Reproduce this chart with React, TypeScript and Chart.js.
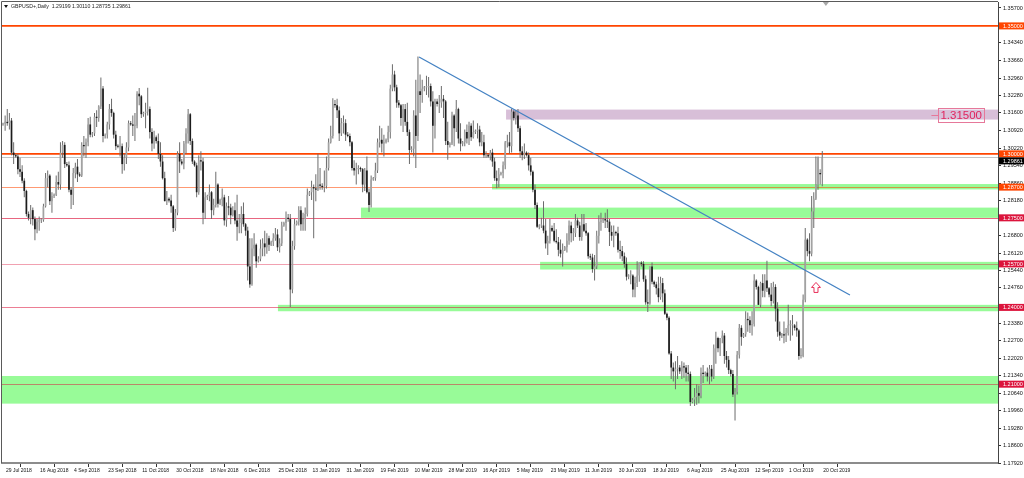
import React, { useEffect, useRef } from 'react';
import { Chart, registerables } from 'chart.js';

Chart.register(...registerables);

// ---- Daily GBPUSD+ bars (Sun..Fri per row), 29 Jul 2018 .. 21 Oct 2019 ----
const opens = [
  1.3115, 1.3118, 1.3125, 1.3120, 1.3130, 1.3005,
  1.2995, 1.2990, 1.2940, 1.2930, 1.2895, 1.2855,
  1.2765, 1.2750, 1.2780, 1.2745, 1.2705, 1.2735,
  1.2740, 1.2742, 1.2795, 1.2905, 1.2915, 1.2815,
  1.2835, 1.2840, 1.2890, 1.2880, 1.3005, 1.3035,
  1.2960, 1.2955, 1.2860, 1.2840, 1.2925, 1.2950,
  1.2920, 1.2915, 1.3035, 1.3030, 1.3045, 1.3115,
  1.3075, 1.3080, 1.3145, 1.3140, 1.3185, 1.3255,
  1.3070, 1.3075, 1.3115, 1.3175, 1.3160, 1.3075,
  1.3030, 1.3028, 1.3030, 1.2960, 1.2985, 1.3025,
  1.3120, 1.3115, 1.3110, 1.3110, 1.3235, 1.3225,
  1.3155, 1.3160, 1.3165, 1.3175, 1.3085, 1.3040,
  1.3065, 1.3050, 1.3000, 1.2970, 1.2905, 1.2815,
  1.2825, 1.2818, 1.2795, 1.2710, 1.2770, 1.3000,
  1.2970, 1.2962, 1.3040, 1.3080, 1.3155, 1.3050,
  1.2970, 1.2955, 1.2850, 1.2975, 1.2970, 1.2770,
  1.2830, 1.2835, 1.2850, 1.2780, 1.2800, 1.2880,
  1.2805, 1.2820, 1.2830, 1.2740, 1.2795, 1.2790,
  1.2760, 1.2780, 1.2740, 1.2715, 1.2730, 1.2765,
  1.2725, 1.2700, 1.2560, 1.2490, 1.2630, 1.2645,
  1.2580, 1.2590, 1.2630, 1.2650, 1.2635, 1.2670,
  1.2645, 1.2655, 1.2670, 1.2685, 1.2635, 1.2650,
  1.2720, 1.2730, 1.2750, 1.2745, 1.2470, 1.2640,
  1.2725, 1.2735, 1.2780, 1.2725, 1.2745, 1.2765,
  1.2840, 1.2850, 1.2870, 1.2865, 1.2860, 1.2880,
  1.2875, 1.2870, 1.2875, 1.2945, 1.3045, 1.3070,
  1.3195, 1.3190, 1.3170, 1.3080, 1.3120, 1.3120,
  1.3075, 1.3070, 1.3045, 1.2945, 1.2935, 1.2940,
  1.2945, 1.2940, 1.2880, 1.2935, 1.2850, 1.2800,
  1.2900, 1.2905, 1.2935, 1.3045, 1.3055, 1.3040,
  1.3045, 1.3055, 1.3085, 1.3255, 1.3310, 1.3260,
  1.3200, 1.3190, 1.3140, 1.3175, 1.3125, 1.3085,
  1.3015, 1.3020, 1.3150, 1.3070, 1.3245, 1.3230,
  1.3255, 1.3260, 1.3260, 1.3265, 1.3205, 1.3110,
  1.3205, 1.3195, 1.3200, 1.3215, 1.3205, 1.3050,
  1.3035, 1.3040, 1.3150, 1.3100, 1.3175, 1.3060,
  1.3040, 1.3045, 1.3085, 1.3060, 1.3110, 1.3065,
  1.3085, 1.3090, 1.3095, 1.3045, 1.3045, 1.2995,
  1.2995, 1.2990, 1.3005, 1.2970, 1.2905, 1.2895,
  1.2920, 1.2925, 1.2955, 1.3045, 1.3045, 1.3030,
  1.3165, 1.3140, 1.3150, 1.3100, 1.3010, 1.2995,
  1.3005, 1.2995, 1.2955, 1.2930, 1.2860, 1.2800,
  1.2715, 1.2720, 1.2720, 1.2700, 1.2650, 1.2660,
  1.2710, 1.2700, 1.2660, 1.2655, 1.2625, 1.2610,
  1.2625, 1.2635, 1.2660, 1.2720, 1.2690, 1.2690,
  1.2740, 1.2720, 1.2675, 1.2725, 1.2700, 1.2690,
  1.2600, 1.2595, 1.2550, 1.2560, 1.2680, 1.2735,
  1.2740, 1.2745, 1.2740, 1.2735, 1.2695, 1.2680,
  1.2695, 1.2690, 1.2625, 1.2620, 1.2600, 1.2570,
  1.2520, 1.2525, 1.2525, 1.2470, 1.2495, 1.2525,
  1.2575, 1.2570, 1.2510, 1.2420, 1.2415, 1.2560,
  1.2500, 1.2490, 1.2475, 1.2440, 1.2495, 1.2455,
  1.2375, 1.2360, 1.2220, 1.2165, 1.2150, 1.2160,
  1.2165, 1.2150, 1.2170, 1.2165, 1.2145, 1.2140,
  1.2030, 1.2040, 1.2050, 1.2065, 1.2055, 1.2145,
  1.2140, 1.2145, 1.2130, 1.2160, 1.2130, 1.2240,
  1.2280, 1.2240, 1.2280, 1.2290, 1.2210, 1.2195,
  1.2155, 1.2140, 1.2060, 1.2070, 1.2215, 1.2320,
  1.2285, 1.2295, 1.2355, 1.2350, 1.2330, 1.2335,
  1.2505, 1.2480, 1.2410, 1.2495, 1.2465, 1.2505,
  1.2475, 1.2450, 1.2425, 1.2480, 1.2395, 1.2305,
  1.2290, 1.2295, 1.2290, 1.2300, 1.2330, 1.2330,
  1.2330, 1.2320, 1.2310, 1.2210, 1.2210, 1.2430,
  1.2665, 1.2620, 1.2610, 1.2775, 1.2825, 1.2880,
  1.2925, 1.29199,
];

const highs = [
  1.3122, 1.3150, 1.3175, 1.3160, 1.3140, 1.3045,
  1.3000, 1.3000, 1.2985, 1.2955, 1.2905, 1.2860,
  1.2775, 1.2800, 1.2790, 1.2755, 1.2745, 1.2755,
  1.2748, 1.2805, 1.2925, 1.2935, 1.2920, 1.2850,
  1.2845, 1.2915, 1.2930, 1.3045, 1.3050, 1.3045,
  1.2968, 1.2970, 1.2870, 1.2945, 1.2965, 1.2980,
  1.2928, 1.3045, 1.3070, 1.3060, 1.3140, 1.3145,
  1.3085, 1.3160, 1.3170, 1.3190, 1.3298, 1.3265,
  1.3080, 1.3125, 1.3195, 1.3215, 1.3165, 1.3090,
  1.3038, 1.3070, 1.3040, 1.3000, 1.3045, 1.3130,
  1.3128, 1.3150, 1.3160, 1.3245, 1.3257, 1.3230,
  1.3165, 1.3200, 1.3258, 1.3185, 1.3100, 1.3090,
  1.3072, 1.3080, 1.3045, 1.2995, 1.2930, 1.2855,
  1.2830, 1.2840, 1.2800, 1.2785, 1.3010, 1.3045,
  1.2980, 1.3050, 1.3100, 1.3175, 1.3160, 1.3060,
  1.2975, 1.2965, 1.2995, 1.3010, 1.2985, 1.2850,
  1.2840, 1.2880, 1.2855, 1.2825, 1.2930, 1.2885,
  1.2825, 1.2865, 1.2840, 1.2810, 1.2835, 1.2805,
  1.2795, 1.2810, 1.2840, 1.2765, 1.2795, 1.2810,
  1.2730, 1.2715, 1.2670, 1.2670, 1.2690, 1.2650,
  1.2600, 1.2665, 1.2670, 1.2700, 1.2690, 1.2680,
  1.2660, 1.2690, 1.2710, 1.2705, 1.2670, 1.2735,
  1.2735, 1.2775, 1.2765, 1.2765, 1.2660, 1.2745,
  1.2740, 1.2795, 1.2795, 1.2770, 1.2790, 1.2865,
  1.2855, 1.2895, 1.2880, 1.2920, 1.3000, 1.2945,
  1.2885, 1.2935, 1.2990, 1.3060, 1.3110, 1.3217,
  1.3210, 1.3215, 1.3185, 1.3140, 1.3150, 1.3135,
  1.3085, 1.3080, 1.3050, 1.2975, 1.2965, 1.2955,
  1.2950, 1.2945, 1.2945, 1.2990, 1.2865, 1.2915,
  1.2910, 1.2965, 1.3060, 1.3110, 1.3100, 1.3075,
  1.3060, 1.3110, 1.3270, 1.3350, 1.3325, 1.3270,
  1.3210, 1.3195, 1.3195, 1.3195, 1.3200, 1.3095,
  1.3030, 1.3170, 1.3290, 1.3380, 1.3310, 1.3290,
  1.3265, 1.3305, 1.3300, 1.3275, 1.3245, 1.3215,
  1.3215, 1.3230, 1.3265, 1.3230, 1.3210, 1.3125,
  1.3045, 1.3165, 1.3155, 1.3210, 1.3180, 1.3120,
  1.3050, 1.3095, 1.3115, 1.3125, 1.3120, 1.3130,
  1.3095, 1.3120, 1.3110, 1.3085, 1.3075, 1.3010,
  1.3000, 1.3015, 1.3020, 1.2985, 1.2935, 1.2945,
  1.2930, 1.2970, 1.3050, 1.3075, 1.3085, 1.3177,
  1.3170, 1.3170, 1.3175, 1.3110, 1.3030, 1.3040,
  1.3010, 1.3005, 1.2985, 1.2935, 1.2880, 1.2810,
  1.2725, 1.2750, 1.2815, 1.2745, 1.2680, 1.2745,
  1.2720, 1.2730, 1.2705, 1.2675, 1.2665, 1.2650,
  1.2640, 1.2690, 1.2740, 1.2735, 1.2710, 1.2765,
  1.2750, 1.2735, 1.2765, 1.2765, 1.2730, 1.2695,
  1.2610, 1.2610, 1.2605, 1.2700, 1.2760, 1.2770,
  1.2750, 1.2770, 1.2784, 1.2745, 1.2720, 1.2720,
  1.2700, 1.2715, 1.2660, 1.2640, 1.2615, 1.2595,
  1.2530, 1.2545, 1.2530, 1.2520, 1.2580, 1.2575,
  1.2580, 1.2580, 1.2525, 1.2470, 1.2560, 1.2575,
  1.2505, 1.2500, 1.2520, 1.2520, 1.2515, 1.2470,
  1.2380, 1.2365, 1.2230, 1.2185, 1.2190, 1.2210,
  1.2175, 1.2190, 1.2185, 1.2175, 1.2175, 1.2150,
  1.2045, 1.2085, 1.2100, 1.2095, 1.2165, 1.2175,
  1.2150, 1.2165, 1.2175, 1.2175, 1.2255, 1.2305,
  1.2285, 1.2280, 1.2310, 1.2300, 1.2230, 1.2210,
  1.2160, 1.2155, 1.2085, 1.2230, 1.2335, 1.2330,
  1.2300, 1.2385, 1.2380, 1.2365, 1.2385, 1.2530,
  1.2510, 1.2485, 1.2500, 1.2530, 1.2530, 1.2582,
  1.2480, 1.2495, 1.2500, 1.2490, 1.2420, 1.2345,
  1.2300, 1.2345, 1.2320, 1.2410, 1.2350, 1.2370,
  1.2335, 1.2345, 1.2315, 1.2240, 1.2450, 1.2710,
  1.2670, 1.2690, 1.2835, 1.2850, 1.2990, 1.2990,
  1.2940, 1.30110,
];

const lows = [
  1.3110, 1.3090, 1.3110, 1.3095, 1.2995, 1.2960,
  1.2985, 1.2920, 1.2910, 1.2885, 1.2830, 1.2755,
  1.2740, 1.2725, 1.2720, 1.2662, 1.2690, 1.2700,
  1.2730, 1.2735, 1.2790, 1.2870, 1.2800, 1.2770,
  1.2828, 1.2835, 1.2860, 1.2860, 1.2985, 1.2945,
  1.2950, 1.2850, 1.2785, 1.2800, 1.2905, 1.2890,
  1.2910, 1.2910, 1.2990, 1.2985, 1.3030, 1.3065,
  1.3065, 1.3070, 1.3105, 1.3125, 1.3175, 1.3045,
  1.3060, 1.3060, 1.3095, 1.3145, 1.3060, 1.3015,
  1.3022, 1.2990, 1.2922, 1.2935, 1.2960, 1.3010,
  1.3110, 1.3070, 1.3050, 1.3100, 1.3190, 1.3140,
  1.3145, 1.3100, 1.3150, 1.3060, 1.3010, 1.3020,
  1.3040, 1.2980, 1.2950, 1.2900, 1.2815, 1.2800,
  1.2810, 1.2770, 1.2695, 1.2700, 1.2760, 1.2925,
  1.2955, 1.2940, 1.3000, 1.3040, 1.3035, 1.2960,
  1.2950, 1.2830, 1.2840, 1.2935, 1.2725, 1.2745,
  1.2820, 1.2815, 1.2745, 1.2760, 1.2790, 1.2790,
  1.2800, 1.2795, 1.2720, 1.2715, 1.2760, 1.2725,
  1.2755, 1.2725, 1.2660, 1.2690, 1.2690, 1.2715,
  1.2680, 1.2505, 1.2477, 1.2485, 1.2600, 1.2555,
  1.2575, 1.2580, 1.2600, 1.2600, 1.2610, 1.2620,
  1.2640, 1.2640, 1.2660, 1.2620, 1.2615, 1.2640,
  1.2715, 1.2700, 1.2735, 1.2402, 1.2455, 1.2625,
  1.2720, 1.2720, 1.2700, 1.2700, 1.2700, 1.2755,
  1.2835, 1.2820, 1.2670, 1.2815, 1.2855, 1.2860,
  1.2860, 1.2850, 1.2865, 1.2935, 1.3040, 1.3060,
  1.3180, 1.3140, 1.3050, 1.3070, 1.3080, 1.3050,
  1.3065, 1.3030, 1.2935, 1.2915, 1.2880, 1.2920,
  1.2930, 1.2850, 1.2855, 1.2845, 1.2773, 1.2790,
  1.2895, 1.2895, 1.2925, 1.3025, 1.3005, 1.2990,
  1.3040, 1.3045, 1.3060, 1.3245, 1.3245, 1.3180,
  1.3180, 1.3110, 1.3085, 1.3110, 1.3070, 1.2960,
  1.3005, 1.2990, 1.2945, 1.3050, 1.3160, 1.3200,
  1.3245, 1.3230, 1.3220, 1.3185, 1.3005, 1.3060,
  1.3185, 1.3160, 1.3180, 1.3140, 1.3035, 1.2977,
  1.3025, 1.3035, 1.3030, 1.3085, 1.3040, 1.3010,
  1.3030, 1.3030, 1.3040, 1.3035, 1.3050, 1.3060,
  1.3078, 1.3060, 1.3030, 1.3030, 1.2985, 1.2985,
  1.2985, 1.2975, 1.2950, 1.2895, 1.2866, 1.2870,
  1.2915, 1.2905, 1.2940, 1.3025, 1.3000, 1.3005,
  1.3130, 1.3115, 1.3085, 1.2985, 1.2975, 1.2980,
  1.2990, 1.2935, 1.2915, 1.2850, 1.2785, 1.2710,
  1.2705, 1.2710, 1.2690, 1.2630, 1.2605, 1.2650,
  1.2695, 1.2655, 1.2650, 1.2600, 1.2595, 1.2560,
  1.2620, 1.2615, 1.2645, 1.2655, 1.2660, 1.2675,
  1.2710, 1.2660, 1.2660, 1.2695, 1.2680, 1.2590,
  1.2585, 1.2535, 1.2505, 1.2550, 1.2650, 1.2700,
  1.2730, 1.2710, 1.2710, 1.2640, 1.2660, 1.2635,
  1.2680, 1.2615, 1.2590, 1.2580, 1.2555, 1.2505,
  1.2510, 1.2490, 1.2440, 1.2440, 1.2480, 1.2500,
  1.2560, 1.2500, 1.2410, 1.2382, 1.2410, 1.2490,
  1.2480, 1.2450, 1.2420, 1.2430, 1.2420, 1.2370,
  1.2350, 1.2215, 1.2120, 1.2110, 1.2080, 1.2120,
  1.2140, 1.2120, 1.2125, 1.2110, 1.2110, 1.2015,
  1.2025, 1.2015, 1.2020, 1.2025, 1.2045, 1.2105,
  1.2130, 1.2110, 1.2100, 1.2110, 1.2120, 1.2180,
  1.2225, 1.2210, 1.2260, 1.2180, 1.2165, 1.2140,
  1.2130, 1.2050, 1.1958, 1.2060, 1.2200, 1.2250,
  1.2280, 1.2285, 1.2305, 1.2300, 1.2290, 1.2325,
  1.2470, 1.2410, 1.2400, 1.2440, 1.2440, 1.2460,
  1.2440, 1.2405, 1.2415, 1.2345, 1.2285, 1.2270,
  1.2280, 1.2260, 1.2265, 1.2290, 1.2270, 1.2290,
  1.2310, 1.2285, 1.2195, 1.2200, 1.2205, 1.2420,
  1.2600, 1.2580, 1.2600, 1.2710, 1.2820, 1.2860,
  1.2880, 1.28735,
];

const closes = [
  1.3118, 1.3125, 1.3120, 1.3130, 1.3005, 1.2995,
  1.2990, 1.2940, 1.2930, 1.2895, 1.2855, 1.2765,
  1.2750, 1.2780, 1.2745, 1.2705, 1.2735, 1.2740,
  1.2742, 1.2795, 1.2905, 1.2915, 1.2815, 1.2835,
  1.2840, 1.2890, 1.2880, 1.3005, 1.3035, 1.2960,
  1.2955, 1.2860, 1.2840, 1.2925, 1.2950, 1.2920,
  1.2915, 1.3035, 1.3030, 1.3045, 1.3115, 1.3075,
  1.3080, 1.3145, 1.3140, 1.3185, 1.3255, 1.3070,
  1.3075, 1.3115, 1.3175, 1.3160, 1.3075, 1.3030,
  1.3028, 1.3030, 1.2960, 1.2985, 1.3025, 1.3120,
  1.3115, 1.3110, 1.3110, 1.3235, 1.3225, 1.3155,
  1.3160, 1.3165, 1.3175, 1.3085, 1.3040, 1.3065,
  1.3050, 1.3000, 1.2970, 1.2905, 1.2815, 1.2825,
  1.2818, 1.2795, 1.2710, 1.2770, 1.3000, 1.2970,
  1.2962, 1.3040, 1.3080, 1.3155, 1.3050, 1.2970,
  1.2955, 1.2850, 1.2975, 1.2970, 1.2770, 1.2830,
  1.2835, 1.2850, 1.2780, 1.2800, 1.2880, 1.2805,
  1.2820, 1.2830, 1.2740, 1.2795, 1.2790, 1.2760,
  1.2780, 1.2740, 1.2715, 1.2730, 1.2765, 1.2725,
  1.2700, 1.2560, 1.2490, 1.2630, 1.2645, 1.2580,
  1.2590, 1.2630, 1.2650, 1.2635, 1.2670, 1.2645,
  1.2655, 1.2670, 1.2685, 1.2635, 1.2650, 1.2720,
  1.2730, 1.2750, 1.2745, 1.2470, 1.2640, 1.2725,
  1.2735, 1.2780, 1.2725, 1.2745, 1.2765, 1.2840,
  1.2850, 1.2870, 1.2865, 1.2860, 1.2880, 1.2875,
  1.2870, 1.2875, 1.2945, 1.3045, 1.3070, 1.3195,
  1.3190, 1.3170, 1.3080, 1.3120, 1.3120, 1.3075,
  1.3070, 1.3045, 1.2945, 1.2935, 1.2940, 1.2945,
  1.2940, 1.2880, 1.2935, 1.2850, 1.2800, 1.2900,
  1.2905, 1.2935, 1.3045, 1.3055, 1.3040, 1.3045,
  1.3055, 1.3085, 1.3255, 1.3310, 1.3260, 1.3200,
  1.3190, 1.3140, 1.3175, 1.3125, 1.3085, 1.3015,
  1.3020, 1.3150, 1.3070, 1.3245, 1.3230, 1.3255,
  1.3260, 1.3260, 1.3265, 1.3205, 1.3110, 1.3205,
  1.3195, 1.3200, 1.3215, 1.3205, 1.3050, 1.3035,
  1.3040, 1.3150, 1.3100, 1.3175, 1.3060, 1.3040,
  1.3045, 1.3085, 1.3060, 1.3110, 1.3065, 1.3085,
  1.3090, 1.3095, 1.3045, 1.3045, 1.2995, 1.2995,
  1.2990, 1.3005, 1.2970, 1.2905, 1.2895, 1.2920,
  1.2925, 1.2955, 1.3045, 1.3045, 1.3030, 1.3165,
  1.3140, 1.3150, 1.3100, 1.3010, 1.2995, 1.3005,
  1.2995, 1.2955, 1.2930, 1.2860, 1.2800, 1.2715,
  1.2720, 1.2720, 1.2700, 1.2650, 1.2660, 1.2710,
  1.2700, 1.2660, 1.2655, 1.2625, 1.2610, 1.2625,
  1.2635, 1.2660, 1.2720, 1.2690, 1.2690, 1.2740,
  1.2720, 1.2675, 1.2725, 1.2700, 1.2690, 1.2600,
  1.2595, 1.2550, 1.2560, 1.2680, 1.2735, 1.2740,
  1.2745, 1.2740, 1.2735, 1.2695, 1.2680, 1.2695,
  1.2690, 1.2625, 1.2620, 1.2600, 1.2570, 1.2520,
  1.2525, 1.2525, 1.2470, 1.2495, 1.2525, 1.2575,
  1.2570, 1.2510, 1.2420, 1.2415, 1.2560, 1.2500,
  1.2490, 1.2475, 1.2440, 1.2495, 1.2455, 1.2375,
  1.2360, 1.2220, 1.2165, 1.2150, 1.2160, 1.2165,
  1.2150, 1.2170, 1.2165, 1.2145, 1.2140, 1.2030,
  1.2040, 1.2050, 1.2065, 1.2055, 1.2145, 1.2140,
  1.2145, 1.2130, 1.2160, 1.2130, 1.2240, 1.2280,
  1.2240, 1.2280, 1.2290, 1.2210, 1.2195, 1.2155,
  1.2140, 1.2060, 1.2070, 1.2215, 1.2320, 1.2285,
  1.2295, 1.2355, 1.2350, 1.2330, 1.2335, 1.2505,
  1.2480, 1.2410, 1.2495, 1.2465, 1.2505, 1.2475,
  1.2450, 1.2425, 1.2480, 1.2395, 1.2305, 1.2290,
  1.2295, 1.2290, 1.2300, 1.2330, 1.2330, 1.2330,
  1.2320, 1.2310, 1.2210, 1.2210, 1.2430, 1.2665,
  1.2620, 1.2610, 1.2775, 1.2825, 1.2880, 1.2985,
  1.2920, 1.29861,
];

// ---- Axis ticks ----
const dateTickIndex = [0, 16, 32, 48, 64, 80, 96, 112, 128, 144, 160, 176, 192, 208, 224, 240, 256, 272, 288, 304, 320, 336, 352, 368, 384];
const dateTickLabels = [
  '29 Jul 2018', '16 Aug 2018', '4 Sep 2018', '23 Sep 2018', '11 Oct 2018', '30 Oct 2018',
  '18 Nov 2018', '6 Dec 2018', '25 Dec 2018', '13 Jan 2019', '31 Jan 2019', '19 Feb 2019',
  '10 Mar 2019', '28 Mar 2019', '16 Apr 2019', '5 May 2019', '23 May 2019', '11 Jun 2019',
  '30 Jun 2019', '18 Jul 2019', '6 Aug 2019', '25 Aug 2019', '12 Sep 2019', '1 Oct 2019', '20 Oct 2019',
];
const priceTicks = [
  1.357, 1.3434, 1.3366, 1.3296, 1.3228, 1.316, 1.3092, 1.3022, 1.2954, 1.2886, 1.2818,
  1.268, 1.2612, 1.2544, 1.2476, 1.2338, 1.227, 1.2202, 1.2134, 1.2064, 1.1996, 1.1928, 1.186, 1.1792,
];

// ---- Drawn objects ----
const levelPrices = [1.35, 1.3, 1.287, 1.275, 1.257, 1.24, 1.21];
const zoneLow = [1.3134, 1.2861, 1.275, 1.2548, 1.2385, 1.2024];
const zoneHigh = [1.3173, 1.2882, 1.279, 1.2578, 1.241, 1.2132];
const zoneStartIndex = [236.4, 229.8, 168.2, 252.4, 129.2, -1];
const trendIndex = [195.5, 398.0];
const trendPrice = [1.33785, 1.24485];
const priceLabelValue = 1.315;
const arrowIndex = 382.05;
const arrowPrice = 1.2478;
const bidPrice = 1.29861;
const titleText = 'GBPUSD+,Daily  1.29199 1.30110 1.28735 1.29861';

// ---- Styles ----
const FONT = "'Liberation Sans', Arial, sans-serif";
const BULL = '#a2a2a2';
const BEAR = '#1c1c1c';
const WICK = '#6c6c6c';
const ZONE_FILL = ['#D8BFD8', '#98FB98', '#98FB98', '#98FB98', '#98FB98', '#98FB98'];
const LEVEL_LINE = ['#FF4500', '#FF4500', 'rgba(255,69,0,0.55)', 'rgba(220,20,60,0.65)', 'rgba(220,20,60,0.4)', 'rgba(220,20,60,0.55)', 'rgba(220,20,60,0.5)'];
const LEVEL_WIDTH = [1.6, 1.6, 1, 1, 1, 1, 1];
const LEVEL_LABEL_BG = ['#FF4500', '#FF4500', '#FF4500', '#DC143C', '#DC143C', '#DC143C', '#DC143C'];
const X_MIN = -0.47;
const X_MAX = 467.58;
const Y_MIN = 1.1792;
const Y_MAX = 1.35934;

const decorPlugin = {
  id: 'mtDecor',
  beforeDatasetsDraw(chart: any) {
    const { ctx, chartArea: a, scales } = chart;
    const xs = scales.x;
    const ys = scales.y;
    ctx.save();
    ctx.beginPath();
    ctx.rect(a.left, a.top, a.right - a.left, a.bottom - a.top);
    ctx.clip();
    zoneLow.forEach((lo: number, k: number) => {
      const x0 = Math.max(a.left, xs.getPixelForValue(zoneStartIndex[k]));
      const yt = ys.getPixelForValue(zoneHigh[k]);
      const yb = ys.getPixelForValue(lo);
      ctx.fillStyle = ZONE_FILL[k];
      ctx.fillRect(x0, yt, a.right - x0, yb - yt);
    });
    // bid line
    const yb = Math.round(ys.getPixelForValue(bidPrice)) + 0.5;
    ctx.strokeStyle = '#c4c4c4';
    ctx.lineWidth = 1;
    ctx.beginPath();
    ctx.moveTo(a.left, yb);
    ctx.lineTo(a.right, yb);
    ctx.stroke();
    levelPrices.forEach((p: number, k: number) => {
      const yy = LEVEL_WIDTH[k] > 1 ? ys.getPixelForValue(p) : Math.round(ys.getPixelForValue(p)) + 0.5;
      ctx.strokeStyle = LEVEL_LINE[k];
      ctx.lineWidth = LEVEL_WIDTH[k];
      ctx.beginPath();
      ctx.moveTo(a.left, yy);
      ctx.lineTo(a.right, yy);
      ctx.stroke();
    });
    ctx.restore();
  },
  afterDatasetsDraw(chart: any) {
    const { ctx, chartArea: a, scales } = chart;
    const xs = scales.x;
    const ys = scales.y;
    ctx.save();
    // up arrow
    const ax = xs.getPixelForValue(arrowIndex);
    const ay = ys.getPixelForValue(arrowPrice);
    ctx.beginPath();
    ctx.moveTo(ax, ay - 5);
    ctx.lineTo(ax + 4.5, ay);
    ctx.lineTo(ax + 2, ay);
    ctx.lineTo(ax + 2, ay + 5);
    ctx.lineTo(ax - 2, ay + 5);
    ctx.lineTo(ax - 2, ay);
    ctx.lineTo(ax - 4.5, ay);
    ctx.closePath();
    ctx.fillStyle = '#ffffff';
    ctx.fill();
    ctx.strokeStyle = '#E8305A';
    ctx.lineWidth = 1;
    ctx.stroke();
    // big price label
    const py = ys.getPixelForValue(priceLabelValue);
    ctx.font = `11.5px ${FONT}`;
    const txt = priceLabelValue.toFixed(5);
    const tw = ctx.measureText(txt).width;
    const bxR = a.right - 14;
    const bxL = bxR - tw - 4;
    ctx.strokeStyle = '#E6789A';
    ctx.lineWidth = 1;
    ctx.strokeRect(Math.round(bxL) + 0.5, Math.round(py - 7.5) + 0.5, Math.round(tw + 4), 14);
    ctx.beginPath();
    ctx.moveTo(bxL - 7, Math.round(py) + 0.5);
    ctx.lineTo(bxL, Math.round(py) + 0.5);
    ctx.stroke();
    ctx.fillStyle = '#E0245E';
    ctx.textBaseline = 'middle';
    ctx.textAlign = 'left';
    ctx.fillText(txt, bxL + 2, py + 0.5);
    ctx.restore();
  },
  afterDraw(chart: any) {
    const { ctx, chartArea: a, scales, width } = chart;
    const xs = scales.x;
    const ys = scales.y;
    ctx.save();
    // frame
    ctx.strokeStyle = '#5a5a5a';
    ctx.lineWidth = 1;
    ctx.beginPath();
    ctx.moveTo(a.left - 0.5, a.bottom);
    ctx.lineTo(a.left - 0.5, a.top - 0.5);
    ctx.lineTo(a.right, a.top - 0.5);
    ctx.stroke();
    // chart shift marker
    const sx = xs.getPixelForValue(386.7);
    ctx.fillStyle = '#a8a8a8';
    ctx.beginPath();
    ctx.moveTo(sx - 3, a.top);
    ctx.lineTo(sx + 3, a.top);
    ctx.lineTo(sx, a.top + 4);
    ctx.closePath();
    ctx.fill();
    // title
    ctx.fillStyle = '#111';
    ctx.beginPath();
    ctx.moveTo(a.left + 2, a.top + 3);
    ctx.lineTo(a.left + 6, a.top + 3);
    ctx.lineTo(a.left + 4, a.top + 6);
    ctx.closePath();
    ctx.fill();
    ctx.font = `5.2px ${FONT}`;
    ctx.textBaseline = 'middle';
    ctx.textAlign = 'left';
    ctx.fillStyle = '#222';
    ctx.fillText(titleText, a.left + 9, a.top + 4.5);
    // axis price labels
    const items = levelPrices.map((p: number, k: number) => ({ p, bg: LEVEL_LABEL_BG[k] }));
    items.push({ p: bidPrice, bg: '#000000' });
    items.sort((u: any, v: any) => v.p - u.p);
    ctx.font = `5.5px ${FONT}`;
    let prevBottom = -100;
    const h = 7;
    items.forEach((it: any) => {
      let top = ys.getPixelForValue(it.p) - h / 2;
      if (top < prevBottom) top = prevBottom;
      prevBottom = top + h;
      ctx.fillStyle = it.bg;
      ctx.fillRect(a.right + 1, top, width - a.right - 1, h);
      ctx.fillStyle = '#ffffff';
      ctx.fillText(it.p.toFixed(5), a.right + 5, top + h / 2 + 0.3);
    });
    ctx.restore();
  },
};

export default function App() {
  const ref = useRef<HTMLCanvasElement>(null);
  useEffect(() => {
    if (!ref.current) return;
    const bodyData = closes.map((c, i) => ({ x: i, y: [Math.min(opens[i], c), Math.max(opens[i], c)] }));
    const wickData = closes.map((c, i) => ({ x: i, y: [lows[i], highs[i]] }));
    const bodyColors = closes.map((c, i) => (c >= opens[i] ? BULL : BEAR));
    const trendData = trendIndex.map((v, k) => ({ x: v, y: trendPrice[k] }));

    const chart = new Chart(ref.current, {
      type: 'bar',
      data: {
        datasets: [
          {
            type: 'line',
            label: 'trend',
            data: trendData,
            borderColor: '#4482C3',
            borderWidth: 1.3,
            pointRadius: 0,
            fill: false,
          } as any,
          {
            label: 'body',
            data: bodyData as any,
            backgroundColor: bodyColors,
            barThickness: 1.7,
            minBarLength: 1,
            grouped: false,
            borderWidth: 0,
            inflateAmount: 0,
          } as any,
          {
            label: 'wick',
            data: wickData as any,
            backgroundColor: WICK,
            barThickness: 1,
            grouped: false,
            borderWidth: 0,
            inflateAmount: 0,
          } as any,
        ],
      },
      options: {
        animation: false,
        responsive: false,
        devicePixelRatio: 1,
        events: [],
        layout: { padding: { left: 2, top: 2, right: 0, bottom: 0 } },
        plugins: { legend: { display: false }, tooltip: { enabled: false }, title: { display: false } },
        scales: {
          x: {
            type: 'linear',
            min: X_MIN,
            max: X_MAX,
            offset: false,
            afterBuildTicks: (s: any) => {
              s.ticks = dateTickIndex.map((v) => ({ value: v }));
            },
            afterFit: (s: any) => {
              s.height = 15;
              s.paddingLeft = 0;
              s.paddingRight = 0;
            },
            ticks: {
              autoSkip: false,
              maxRotation: 0,
              minRotation: 0,
              align: 'start',
              labelOffset: 3,
              padding: 1,
              color: '#111',
              font: { size: 5, family: FONT },
              callback: (_v: any, i: number) => dateTickLabels[i] ?? '',
            },
            grid: { drawOnChartArea: false, drawTicks: true, tickLength: 4, color: '#333', lineWidth: 1 },
            border: { display: true, color: '#8c8c8c', width: 2 },
          },
          y: {
            type: 'linear',
            position: 'right',
            min: Y_MIN,
            max: Y_MAX,
            afterBuildTicks: (s: any) => {
              s.ticks = priceTicks.map((v) => ({ value: v }));
            },
            afterFit: (s: any) => {
              s.width = 26;
              s.paddingTop = 0;
              s.paddingBottom = 0;
            },
            ticks: {
              autoSkip: false,
              padding: 2,
              color: '#111',
              font: { size: 5.5, family: FONT },
              callback: (v: any) => Number(v).toFixed(5),
            },
            grid: { drawOnChartArea: false, drawTicks: true, tickLength: 3, color: '#333', lineWidth: 1 },
            border: { display: true, color: '#444', width: 1 },
          },
        },
      },
      plugins: [decorPlugin],
    } as any);
    return () => chart.destroy();
  }, []);

  return (
    <div style={{ position: 'fixed', left: 0, top: 0, width: 1024, height: 478, background: '#ffffff' }}>
      <canvas ref={ref} width={1024} height={478} style={{ display: 'block', width: 1024, height: 478 }} />
    </div>
  );
}
